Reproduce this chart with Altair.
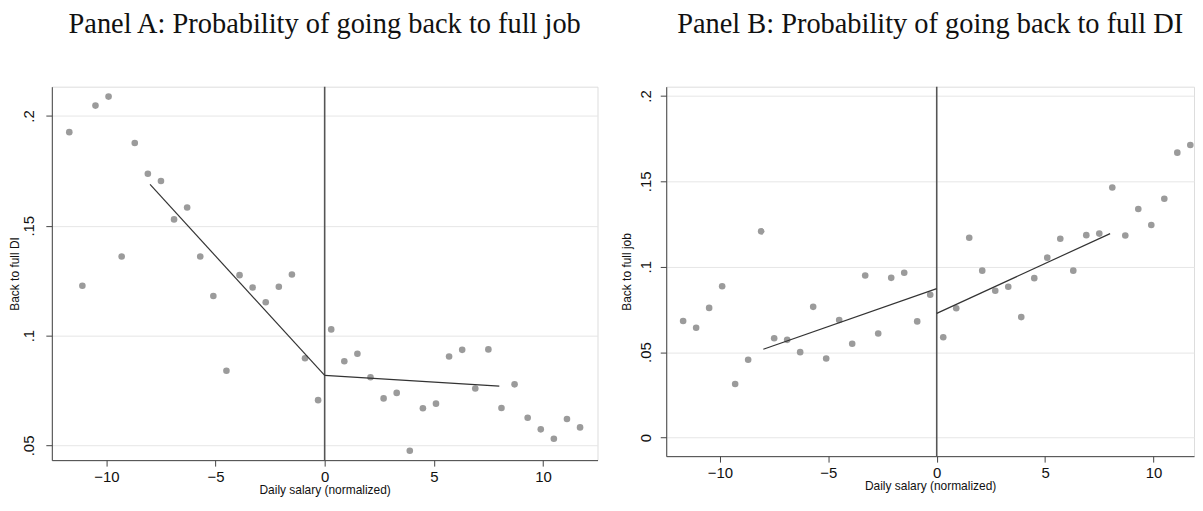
import altair as alt
import pandas as pd

# Bin centres (normalized daily salary)
bins_x = [-11.7, -11.1, -10.5, -9.9, -9.3, -8.7, -8.1, -7.5, -6.9, -6.3,
          -5.7, -5.1, -4.5, -3.9, -3.3, -2.7, -2.1, -1.5, -0.9, -0.3,
          0.3, 0.9, 1.5, 2.1, 2.7, 3.3, 3.9, 4.5, 5.1, 5.7,
          6.3, 6.9, 7.5, 8.1, 8.7, 9.3, 9.9, 10.5, 11.1, 11.7]

# Panel A: back to full DI (probability of going back to full job)
a_y = [0.1926, 0.1227, 0.2047, 0.2088, 0.1360, 0.1877, 0.1737, 0.1704, 0.1529, 0.1583,
       0.1360, 0.1180, 0.0840, 0.1275, 0.1219, 0.1152, 0.1222, 0.1278, 0.0897, 0.0706,
       0.1028, 0.0883, 0.0917, 0.0810, 0.0714, 0.0739, 0.0476, 0.0669, 0.0690, 0.0905,
       0.0935, 0.0759, 0.0937, 0.0670, 0.0778, 0.0626, 0.0573, 0.0530, 0.0620, 0.0582]

# Panel B: back to full job (probability of going back to full DI)
b_y = [0.0682, 0.0643, 0.0759, 0.0886, 0.0313, 0.0455, 0.1207, 0.0581, 0.0572, 0.0500,
       0.0765, 0.0463, 0.0688, 0.0549, 0.0949, 0.0609, 0.0935, 0.0965, 0.0680, 0.0836,
       0.0587, 0.0757, 0.1170, 0.0977, 0.0859, 0.0883, 0.0705, 0.0933, 0.1053, 0.1164,
       0.0977, 0.1185, 0.1194, 0.1464, 0.1183, 0.1338, 0.1244, 0.1398, 0.1668, 0.1713]

# Linear fits on each side of the cutoff
fit_x = [-8, 0, 0, 8]
fit_seg = ["left", "left", "right", "right"]
a_fit_y = [0.1688, 0.0819, 0.0819, 0.0770]
b_fit_y = [0.0517, 0.0872, 0.0727, 0.1194]

x_ticks = [-10, -5, 0, 5, 10]
a_y_ticks = [0.05, 0.10, 0.15, 0.20]
b_y_ticks = [0.0, 0.05, 0.10, 0.15, 0.20]

AXIS_FONT = "Liberation Sans"
TITLE_FONT = "Liberation Serif"
POINT_COLOR = "#9b9b9b"
LABEL_EXPR = "datum.value == 0 ? '0' : replace(format(datum.value, '.2~f'), '0.', '.')"


def panel(title, ys, fit_ys, y_title, x_domain, y_domain, y_ticks, width, height,
          y_label_pad, y_title_pad):
    pts = pd.DataFrame({"x": bins_x, "y": ys})
    fit = pd.DataFrame({"x": fit_x, "y": fit_ys, "seg": fit_seg})
    cut = pd.DataFrame({"x": [0]})

    xs = alt.Scale(domain=x_domain, nice=False, zero=False)
    ysc = alt.Scale(domain=y_domain, nice=False, zero=False)

    x_axis = alt.Axis(values=x_ticks, title="Daily salary (normalized)", grid=False,
                      labelFontSize=15, titleFontSize=12, tickSize=6,
                      labelPadding=3, titlePadding=1, labelFont=AXIS_FONT,
                      titleFont=AXIS_FONT, titleFontWeight="normal",
                      domainColor="#444444", tickColor="#444444",
                      labelColor="#111111", titleColor="#111111")
    y_axis = alt.Axis(values=y_ticks, title=y_title, grid=True, gridColor="#e6e6e6",
                      labelExpr=LABEL_EXPR, labelAngle=270, labelFontSize=15,
                      titleFontSize=12, tickSize=6, labelPadding=y_label_pad,
                      titlePadding=y_title_pad,
                      labelFont=AXIS_FONT, titleFont=AXIS_FONT, titleFontWeight="normal",
                      domainColor="#444444", tickColor="#444444",
                      labelColor="#111111", titleColor="#111111")

    points = alt.Chart(pts).mark_circle(size=44, color=POINT_COLOR, opacity=1).encode(
        x=alt.X("x:Q", scale=xs, axis=x_axis),
        y=alt.Y("y:Q", scale=ysc, axis=y_axis),
    )
    rule = alt.Chart(cut).mark_rule(color="#555555", strokeWidth=1.6).encode(
        x=alt.X("x:Q", scale=xs)
    )
    lines = alt.Chart(fit).mark_line(color="#333333", strokeWidth=1.2).encode(
        x=alt.X("x:Q", scale=xs),
        y=alt.Y("y:Q", scale=ysc),
        detail="seg:N",
    )
    return alt.layer(points, rule, lines).properties(
        width=width, height=height,
        title=alt.TitleParams(title, font=TITLE_FONT, fontSize=28.5, fontWeight="normal",
                              color="#111111", anchor="middle", frame="group", offset=48),
    )


pa = panel("Panel A: Probability of going back to full job", a_y, a_fit_y, "Back to full DI",
           [-12.5, 12.5], [0.0433, 0.2133], a_y_ticks, 548, 375, 9, 0)
pb = panel("Panel B: Probability of going back to full DI", b_y, b_fit_y, "Back to full job",
           [-12.48, 11.87], [-0.0109, 0.2054], b_y_ticks, 530, 371, 7, 5)

chart = alt.hconcat(pa, pb, spacing=21).properties(
    padding={"left": 0, "top": 0, "right": 0, "bottom": 0}
).configure_view(stroke=None).configure(background="white")

chart.save("out.html", embed_options={"renderer": "svg", "actions": False})
